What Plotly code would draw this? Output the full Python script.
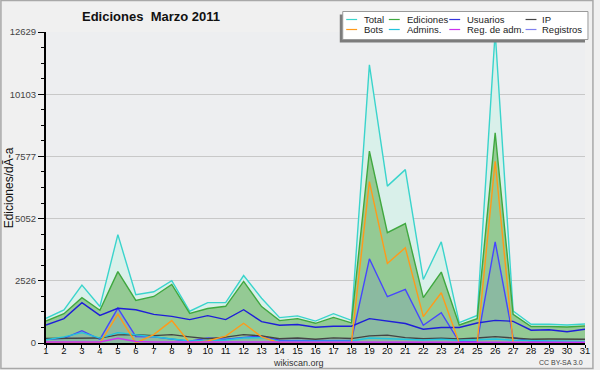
import plotly.graph_objects as go

days = list(range(1, 32))
total = [1000, 1340, 2350, 1480, 4400, 1960, 2080, 2530, 1290, 1640, 1640, 2740, 1820, 1030, 1100, 890,
         1190, 920, 11300, 6370, 7040, 2580, 4110, 830, 1120, 12629, 1300, 760, 760, 730, 770]
ediciones = [890, 1190, 1840, 1330, 2900, 1730, 1890, 2380, 1200, 1400, 1490, 2500, 1480, 910, 990, 800,
             1040, 820, 7790, 4480, 4850, 1840, 2880, 730, 990, 8530, 1160, 670, 670, 650, 690]
usuarios = [730, 990, 1640, 1120, 1410, 1350, 1160, 1080, 950, 1110, 950, 1350, 870, 720, 750, 640,
            680, 680, 990, 890, 790, 560, 630, 630, 810, 920, 880, 520, 540, 460, 560]
ip = [180, 190, 190, 200, 330, 340, 300, 340, 250, 170, 240, 340, 290, 170, 200, 150,
      210, 180, 290, 320, 220, 170, 190, 160, 200, 260, 200, 150, 160, 150, 150]
bots = [0, 0, 0, 0, 1170, 0, 340, 910, 0, 80, 280, 800, 250, 0, 0, 0,
        0, 0, 6550, 3230, 3870, 1070, 2040, 0, 0, 7380, 0, 0, 0, 0, 0]
admins = [130, 250, 420, 200, 420, 330, 260, 160, 80, 100, 120, 200, 220, 60, 60, 60,
          80, 80, 200, 180, 150, 120, 150, 110, 130, 160, 110, 80, 80, 70, 60]
reg_adm = [40, 40, 40, 40, 190, 60, 40, 40, 30, 40, 50, 40, 40, 30, 30, 30,
           30, 30, 40, 40, 40, 30, 30, 30, 30, 40, 30, 30, 30, 30, 30]
registros = [150, 190, 500, 150, 1420, 260, 250, 150, 70, 200, 150, 230, 280, 110, 110, 100,
             130, 100, 3420, 1880, 2180, 720, 1230, 50, 50, 4110, 220, 80, 60, 60, 50]

ymax = 12629
y_tick_labels = ["0", "2526", "5052", "7577", "10103", "12629"]
legend_names = ["Total", "Ediciones", "Usuarios", "IP", "Bots", "Admins.", "Reg. de adm.", "Registros"]
title_text = "Ediciones\u00a0\u00a0Marzo 2011"
ytitle = "Ediciones/dÃ-a"

colors = {
    "Total": "#3ad4cc", "Ediciones": "#3fa83f", "Usuarios": "#1e1ed8", "IP": "#444444",
    "Bots": "#ff9a1a", "Admins.": "#22c4dc", "Reg. de adm.": "#cc33ee", "Registros": "#4646ff",
}
legend_colors = dict(colors, Usuarios="#3434dd", Registros="#8080ee")

W, H = 600, 370
L, R, T, B = 46, 10, 32, 27
PW, PH = W - L - R, H - T - B

def px(x):
    return (x - L) / PW

def py(y):
    return (H - B - y) / PH

FONT = "Liberation Sans, Arial, sans-serif"

fig = go.Figure()
fig.add_trace(go.Scatter(x=days, y=total, mode="lines", line=dict(color=colors["Total"], width=1.4),
                         fill="tozeroy", fillcolor="#d9f0ea", name="Total"))
fig.add_trace(go.Scatter(x=days, y=ediciones, mode="lines", line=dict(color=colors["Ediciones"], width=1.4),
                         fill="tozeroy", fillcolor="#94ca94", name="Ediciones"))
fig.add_trace(go.Scatter(x=days, y=registros, mode="lines", line=dict(color=colors["Registros"], width=1.4),
                         fill="tozeroy", fillcolor="rgba(70,70,255,0.12)", name="Registros"))
for nm, vals in [("Usuarios", usuarios), ("IP", ip), ("Admins.", admins), ("Bots", bots),
                 ("Reg. de adm.", reg_adm)]:
    fig.add_trace(go.Scatter(x=days, y=vals, mode="lines", line=dict(color=colors[nm], width=1.4), name=nm))

shapes = []
annotations = []

# outer border
shapes.append(dict(type="rect", xref="paper", yref="paper", x0=px(0.5), x1=px(598), y0=py(368.5), y1=py(0.5),
                   line=dict(color="#a8a8a8", width=1.5), fillcolor="rgba(0,0,0,0)", layer="above"))
# legend shadow and box
shapes.append(dict(type="rect", xref="paper", yref="paper", x0=px(342.5), x1=px(590), y0=py(42.5), y1=py(14.5),
                   line=dict(width=0), fillcolor="#7c7c7c", layer="above"))
shapes.append(dict(type="rect", xref="paper", yref="paper", x0=px(345.5), x1=px(593), y0=py(39.5), y1=py(11.5),
                   line=dict(color="#9a9a9a", width=1), fillcolor="#ffffff", layer="above"))
col_line = [349, 392, 453, 530]
col_text = [365, 408, 469, 545]
row_y = [19.5, 29.5]
for i, nm in enumerate(legend_names):
    r, c = divmod(i, 4)
    shapes.append(dict(type="line", xref="paper", yref="paper", x0=px(col_line[c]), x1=px(col_line[c] + 11),
                       y0=py(row_y[r]), y1=py(row_y[r]), line=dict(color=legend_colors[nm], width=1.2),
                       layer="above"))
    annotations.append(dict(text=nm, xref="paper", yref="paper", x=px(col_text[c]), y=py(row_y[r]),
                            xanchor="left", yanchor="middle", showarrow=False,
                            font=dict(family=FONT, size=9.5, color="#222222")))

annotations.append(dict(text="<b>" + title_text + "</b>", xref="paper", yref="paper", x=px(152), y=py(16.5),
                        xanchor="center", yanchor="middle", showarrow=False,
                        font=dict(family=FONT, size=13, color="#111111")))
annotations.append(dict(text=ytitle, xref="paper", yref="paper", x=px(9), y=py(188), textangle=-90,
                        xanchor="center", yanchor="middle", showarrow=False,
                        font=dict(family=FONT, size=12, color="#111111")))
annotations.append(dict(text="wikiscan.org", xref="paper", yref="paper", x=px(300.5), y=py(362.5),
                        xanchor="center", yanchor="middle", showarrow=False,
                        font=dict(family=FONT, size=9, color="#333333")))
annotations.append(dict(text="CC BY-SA 3.0", xref="paper", yref="paper", x=px(589.5), y=py(362.5),
                        xanchor="right", yanchor="middle", showarrow=False,
                        font=dict(family=FONT, size=7, color="#444444")))

fig.update_layout(
    width=W, height=H, margin=dict(l=L, r=R, t=T, b=B, pad=0),
    paper_bgcolor="#f0f0f0", plot_bgcolor="#edeef0",
    showlegend=False, shapes=shapes, annotations=annotations,
    font=dict(family=FONT),
    xaxis=dict(range=[1, 31], tickmode="linear", tick0=1, dtick=1, showgrid=False, zeroline=False,
               showline=True, linecolor="black", linewidth=2, ticks="outside", ticklen=3, tickcolor="black",
               ticklabelstandoff=-5,
               tickfont=dict(family=FONT, size=9.5, color="#111111")),
    yaxis=dict(range=[0, ymax], tickmode="array", tickvals=[ymax * k / 5 for k in range(6)],
               ticktext=y_tick_labels, showgrid=True, gridcolor="#c8c8c8", gridwidth=1, zeroline=False,
               showline=True, linecolor="black", linewidth=2, ticks="outside", ticklen=6, tickcolor="black",
               tickfont=dict(family=FONT, size=9.5, color="#444444"),
               minor=dict(tickvals=[ymax * k / 20 for k in range(21)], ticks="outside", ticklen=3,
                          tickcolor="black", showgrid=False)),
)

fig.write_html("out.html", config={"displayModeBar": False},
               post_script="document.body.style.margin='0';document.body.style.padding='0';")
